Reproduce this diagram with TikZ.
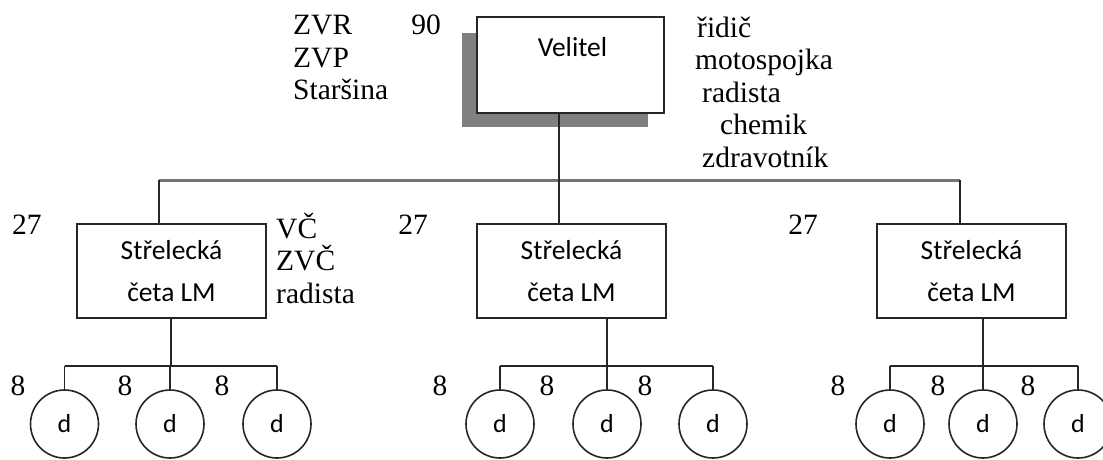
\documentclass[tikz,border=0pt]{standalone}
\usepackage{fontspec}
\setmainfont{Liberation Serif}
\newfontfamily\boxfont{Carlito}
\usetikzlibrary{positioning, calc}

\begin{document}
\begin{tikzpicture}[
    x=1pt, y=1pt,
    font=\fontsize{29.5}{32.5}\selectfont,
    unit/.style={draw=black!85, line width=1.8pt, fill=white, minimum width=189pt,
                 minimum height=94pt, inner sep=0pt, align=center,
                 font=\boxfont\fontsize{27.5}{42}\selectfont},
    squad/.style={circle, draw=black!85, line width=1.6pt, minimum size=68pt,
                  inner sep=0pt, font=\boxfont\fontsize{26}{30}\selectfont},
    link/.style={black!85, line width=1.8pt},
    bus/.style={black!55, line width=3pt},
    num/.style={inner sep=0pt},
    crew/.style={align=left, inner sep=0pt, anchor=west},
]
    \useasboundingbox (0,0) rectangle (1103,-460);

    %==================== VELITEL ====================
    \fill[black!50] (462,-33) rectangle (648,-127);
    \node[unit, minimum width=187pt, minimum height=96pt] (vel) at (570.5,-65) {};
    \node[inner sep=0pt, font=\boxfont\fontsize{27.5}{32}\selectfont]
        (veltxt) at ($(vel.north)+(2,-31)$) {Velitel};

    \node[num] (n90) at (426,-25) {90};
    \node[crew] (staff) at (293,-57.5) {ZVR\\ZVP\\Staršina};
    \node[crew] (team) at (695,-92)
        {\hspace*{2pt}řidič\\motospojka\\\hspace*{7pt}radista\\
         \hspace*{25pt}chemik\\\hspace*{7pt}zdravotník};

    %==================== HLAVNI VEDENI ====================
    \coordinate (busL) at (159,-180);
    \coordinate (busM) at (559,-180);
    \coordinate (busR) at (960,-180);
    \draw[bus] (busL) -- (busR);
    \draw[link] (vel.south -| busM) -- (busM);

    %==================== CETY ====================
    \foreach \i/\cx/\fx/\sx/\ca/\cb/\cc/\la/\lb/\lc/\tx in
        {1/171.5/159/171/64.5/170/277/18/125/222/27,
         2/571.5/559/607/500/607/713/440/547/645/413,
         3/971.5/960/983/890/983/1078/838/938/1028/803}{
        \node[unit] (p\i) at (\cx,-271) {Střelecká\\četa LM};
        \node[num] (t\i) at (\tx,-225) {27};
        \coordinate (f\i) at (\fx,-180);
        \draw[link] (f\i) -- (p\i.north -| f\i);

        % druzstva
        \coordinate (s\i) at (\sx,-366);
        \draw[link] (p\i.south -| s\i) -- (s\i);
        \node[squad] (d\i a) at (\ca,-424) {d};
        \node[squad] (d\i b) at (\cb,-424) {d};
        \node[squad] (d\i c) at (\cc,-424) {d};
        \draw[link] (d\i a.north |- s\i) -- (d\i c.north |- s\i);
        \foreach \k in {a,b,c}
            \draw[link] (d\i\k.north |- s\i) -- (d\i\k.north);
        \node[num] (e\i a) at (\la,-386) {8};
        \node[num] (e\i b) at (\lb,-386) {8};
        \node[num] (e\i c) at (\lc,-386) {8};
    }

    \node[crew] (cmd) at (276,-258) {VČ\\ZVČ\\radista};

\end{tikzpicture}
\end{document}
